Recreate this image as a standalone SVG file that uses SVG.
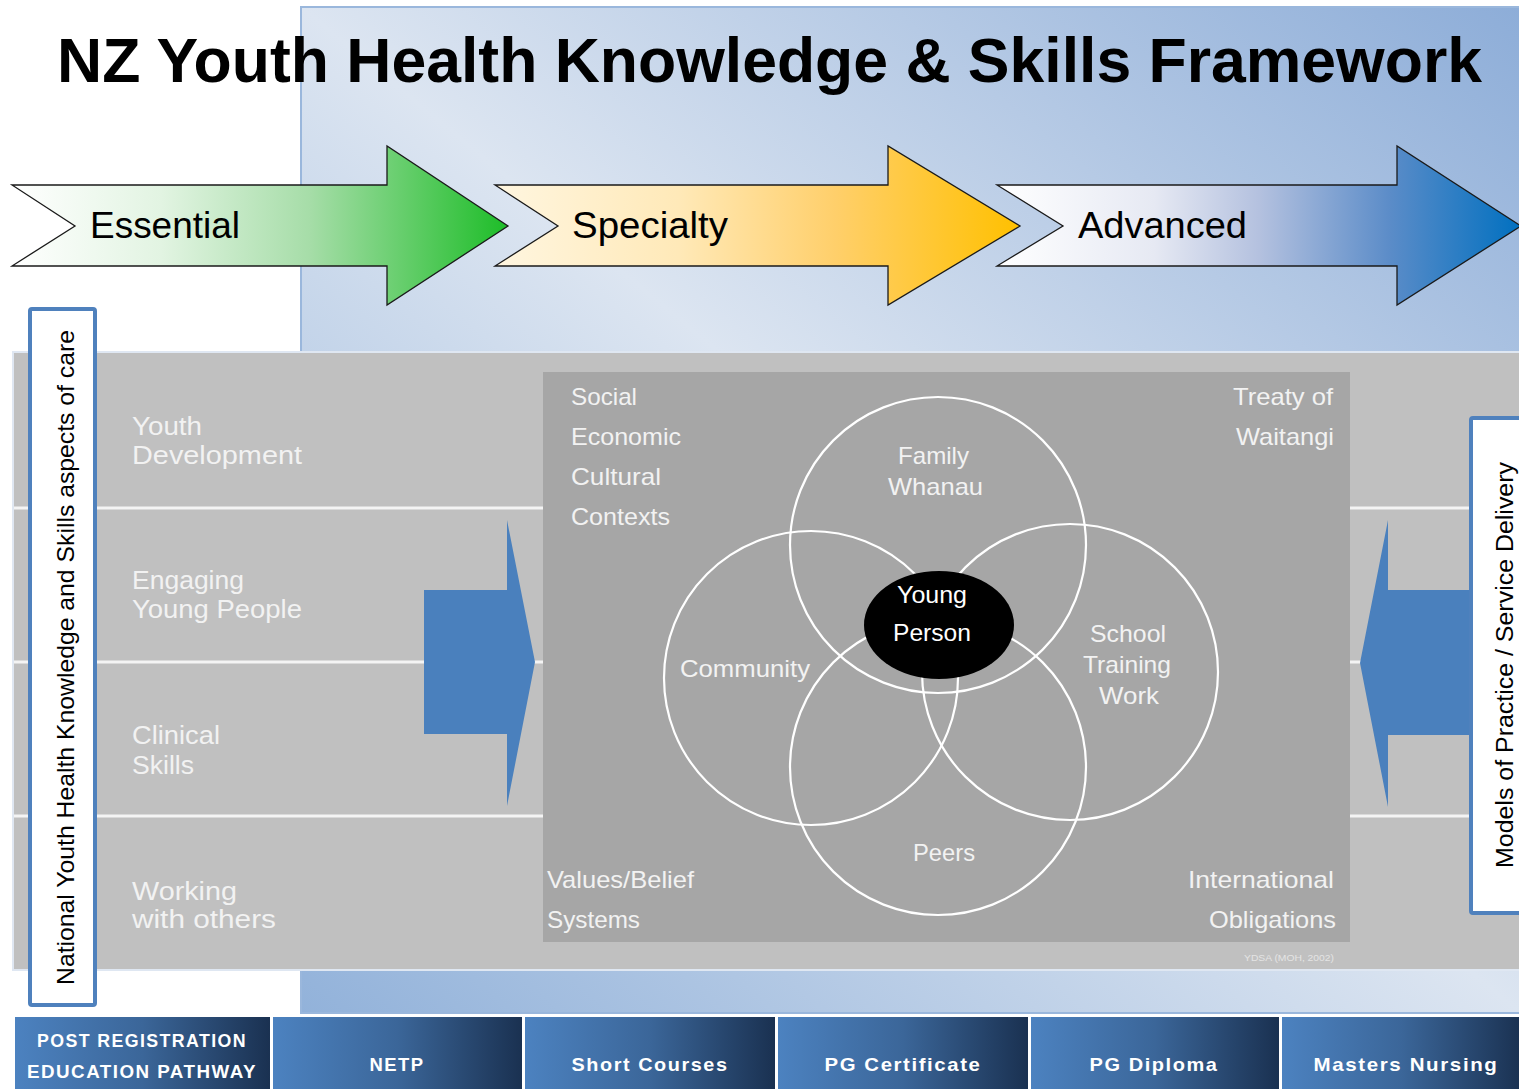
<svg xmlns="http://www.w3.org/2000/svg" width="1519" height="1089" viewBox="0 0 1519 1089">
  <defs>
    <linearGradient id="bgBlue" x1="1" y1="0" x2="0" y2="1">
      <stop offset="0" stop-color="#8dadd8"/>
      <stop offset="0.5" stop-color="#dce5f1"/>
      <stop offset="1" stop-color="#92b2da"/>
    </linearGradient>
    <linearGradient id="gEssential" x1="0" y1="0" x2="1" y2="0">
      <stop offset="0" stop-color="#ffffff"/>
      <stop offset="0.3" stop-color="#e2f4e2"/>
      <stop offset="0.6" stop-color="#a6dda8"/>
      <stop offset="1" stop-color="#1dbd28"/>
    </linearGradient>
    <linearGradient id="gSpecialty" x1="0" y1="0" x2="1" y2="0">
      <stop offset="0" stop-color="#fff6e0"/>
      <stop offset="0.35" stop-color="#ffe9b8"/>
      <stop offset="0.65" stop-color="#ffcf6a"/>
      <stop offset="1" stop-color="#ffc000"/>
    </linearGradient>
    <linearGradient id="gAdvanced" x1="0" y1="0" x2="1" y2="0">
      <stop offset="0" stop-color="#ffffff"/>
      <stop offset="0.3" stop-color="#e6e9f3"/>
      <stop offset="0.5" stop-color="#b4c1df"/>
      <stop offset="0.75" stop-color="#5b8cc8"/>
      <stop offset="1" stop-color="#0070c0"/>
    </linearGradient>
    <linearGradient id="gTab" x1="0" y1="0" x2="1" y2="0">
      <stop offset="0" stop-color="#4c82c0"/>
      <stop offset="0.5" stop-color="#3b6699"/>
      <stop offset="1" stop-color="#1a3151"/>
    </linearGradient>
    <linearGradient id="gRule" x1="0" y1="0" x2="1" y2="0">
      <stop offset="0" stop-color="#4f7aa6"/>
      <stop offset="1" stop-color="#5b7899"/>
    </linearGradient>
    <style>
      .title { font-family: "Liberation Sans", Arial, sans-serif; font-weight: bold; font-size: 63px; fill: #000; }
      .stage { stroke: #1a1a1a; stroke-width: 1.3; }
      .stageText { font-family: "Liberation Sans", Arial, sans-serif; font-size: 36px; fill: #000; }
      .row { font-family: "Liberation Sans", Arial, sans-serif; font-size: 26px; fill: #f2f2f2; }
      .rule { stroke: #f4f4f4; stroke-width: 3; }
      .ctx { font-family: "Liberation Sans", Arial, sans-serif; font-size: 24px; fill: #f2f2f2; }
      .ring { fill: none; stroke: #ffffff; stroke-width: 2.2; }
      .side { fill: #ffffff; stroke: #4f81bd; stroke-width: 4; }
      .sideText { font-family: "Liberation Sans", Arial, sans-serif; fill: #000; }
      .push { fill: #4a80bd; }
      .tab { fill: url(#gTab); }
      .tabText { font-family: "Liberation Sans", Arial, sans-serif; font-weight: bold; font-size: 19px; fill: #ffffff; letter-spacing: 1.5px; text-anchor: middle; }
    </style>
  </defs>

  <!-- page background -->
  <rect x="0" y="0" width="1519" height="1089" fill="#ffffff"/>
  <rect x="301" y="7" width="1220" height="1006" fill="url(#bgBlue)" stroke="#9ab7dc" stroke-width="2"/>

  <!-- heading -->
  <text class="title" x="57" y="82" textLength="1425" lengthAdjust="spacingAndGlyphs">NZ Youth Health Knowledge &amp; Skills Framework</text>

  <!-- stage arrows -->
  <g id="stage-essential">
    <path class="stage" fill="url(#gEssential)" d="M12,185 L387,185 L387,146 L508,226 L387,305 L387,266 L12,266 L75,226 Z"/>
    <text class="stageText" x="90" y="238" textLength="150" lengthAdjust="spacingAndGlyphs">Essential</text>
  </g>
  <g id="stage-specialty">
    <path class="stage" fill="url(#gSpecialty)" d="M495,185 L888,185 L888,146 L1020,226 L888,305 L888,266 L495,266 L558,226 Z"/>
    <text class="stageText" x="572" y="238" textLength="156" lengthAdjust="spacingAndGlyphs">Specialty</text>
  </g>
  <g id="stage-advanced">
    <path class="stage" fill="url(#gAdvanced)" d="M997,185 L1397,185 L1397,146 L1521,226 L1397,305 L1397,266 L997,266 L1063,226 Z"/>
    <text class="stageText" x="1078" y="238" textLength="169" lengthAdjust="spacingAndGlyphs">Advanced</text>
  </g>

  <!-- grey knowledge panel -->
  <g id="panel">
    <rect x="13" y="352" width="1508" height="618" fill="#c0c0c0" stroke="#dfe7f2" stroke-width="2"/>
    <line class="rule" x1="14" y1="508" x2="543" y2="508"/>
    <line class="rule" x1="14" y1="662" x2="543" y2="662"/>
    <line class="rule" x1="14" y1="816" x2="543" y2="816"/>
    <line class="rule" x1="1350" y1="508" x2="1519" y2="508"/>
    <line class="rule" x1="1350" y1="662" x2="1519" y2="662"/>
    <line class="rule" x1="1350" y1="816" x2="1519" y2="816"/>
  </g>

  <g id="row-youth-development">
    <text class="row" x="132" y="435" textLength="70" lengthAdjust="spacingAndGlyphs">Youth</text>
    <text class="row" x="132" y="464" textLength="170" lengthAdjust="spacingAndGlyphs">Development</text>
  </g>
  <g id="row-engaging">
    <text class="row" x="132" y="589" textLength="112" lengthAdjust="spacingAndGlyphs">Engaging</text>
    <text class="row" x="132" y="618" textLength="170" lengthAdjust="spacingAndGlyphs">Young People</text>
  </g>
  <g id="row-clinical">
    <text class="row" x="132" y="744" textLength="88" lengthAdjust="spacingAndGlyphs">Clinical</text>
    <text class="row" x="132" y="774" textLength="62" lengthAdjust="spacingAndGlyphs">Skills</text>
  </g>
  <g id="row-working">
    <text class="row" x="132" y="900" textLength="105" lengthAdjust="spacingAndGlyphs">Working</text>
    <text class="row" x="132" y="928" textLength="144" lengthAdjust="spacingAndGlyphs">with others</text>
  </g>

  <!-- inward arrows -->
  <g id="connectors">
    <path class="push" d="M424,590 L507,590 L507,520 L535,662 L507,806 L507,734 L424,734 Z"/>
    <path class="push" d="M1475,590 L1388,590 L1388,520 L1360,663 L1388,807 L1388,735 L1475,735 Z"/>
  </g>

  <!-- contexts box with overlapping circles -->
  <g id="contexts">
    <rect x="543" y="372" width="807" height="570" fill="#a6a6a6"/>
    <text class="ctx" x="571" y="405" textLength="66" lengthAdjust="spacingAndGlyphs">Social</text>
    <text class="ctx" x="571" y="445" textLength="110" lengthAdjust="spacingAndGlyphs">Economic</text>
    <text class="ctx" x="571" y="485" textLength="90" lengthAdjust="spacingAndGlyphs">Cultural</text>
    <text class="ctx" x="571" y="525" textLength="99" lengthAdjust="spacingAndGlyphs">Contexts</text>
    <text class="ctx" x="1233" y="405" textLength="100" lengthAdjust="spacingAndGlyphs">Treaty of</text>
    <text class="ctx" x="1236" y="445" textLength="98" lengthAdjust="spacingAndGlyphs">Waitangi</text>
    <text class="ctx" x="547" y="888" textLength="147" lengthAdjust="spacingAndGlyphs">Values/Belief</text>
    <text class="ctx" x="547" y="928" textLength="93" lengthAdjust="spacingAndGlyphs">Systems</text>
    <text class="ctx" x="1188" y="888" textLength="146" lengthAdjust="spacingAndGlyphs">International</text>
    <text class="ctx" x="1209" y="928" textLength="127" lengthAdjust="spacingAndGlyphs">Obligations</text>
    <text x="1244" y="961" font-family="Liberation Sans, Arial, sans-serif" font-size="9" fill="#e4e4e4" textLength="90" lengthAdjust="spacingAndGlyphs">YDSA (MOH, 2002)</text>
  </g>

  <g id="circle-family">
    <circle class="ring" cx="938" cy="545" r="148"/>
    <text class="ctx" x="898" y="464" textLength="71" lengthAdjust="spacingAndGlyphs">Family</text>
    <text class="ctx" x="888" y="495" textLength="95" lengthAdjust="spacingAndGlyphs">Whanau</text>
  </g>
  <g id="circle-community">
    <circle class="ring" cx="811" cy="678" r="147"/>
    <text class="ctx" x="680" y="677" textLength="130" lengthAdjust="spacingAndGlyphs">Community</text>
  </g>
  <g id="circle-school">
    <circle class="ring" cx="1070" cy="672" r="148"/>
    <text class="ctx" x="1090" y="642" textLength="76" lengthAdjust="spacingAndGlyphs">School</text>
    <text class="ctx" x="1083" y="673" textLength="88" lengthAdjust="spacingAndGlyphs">Training</text>
    <text class="ctx" x="1099" y="704" textLength="60" lengthAdjust="spacingAndGlyphs">Work</text>
  </g>
  <g id="circle-peers">
    <circle class="ring" cx="938" cy="767" r="148"/>
    <text class="ctx" x="913" y="861" textLength="62" lengthAdjust="spacingAndGlyphs">Peers</text>
  </g>
  <g id="young-person">
    <ellipse cx="939" cy="625" rx="75" ry="54" fill="#000000"/>
    <text class="ctx" x="897" y="603" fill="#ffffff" style="fill:#ffffff" textLength="70" lengthAdjust="spacingAndGlyphs">Young</text>
    <text class="ctx" x="893" y="641" style="fill:#ffffff" textLength="78" lengthAdjust="spacingAndGlyphs">Person</text>
  </g>

  <!-- vertical side labels -->
  <g id="side-knowledge">
    <rect class="side" x="30" y="309" width="65" height="696" rx="2"/>
    <text class="sideText" font-size="24" transform="translate(74,985) rotate(-90)" textLength="655" lengthAdjust="spacingAndGlyphs">National Youth Health Knowledge and Skills aspects of care</text>
  </g>
  <g id="side-practice">
    <rect class="side" x="1471" y="418" width="60" height="495" rx="2"/>
    <text class="sideText" font-size="23" transform="translate(1513,868) rotate(-90)" textLength="406" lengthAdjust="spacingAndGlyphs">Models of Practice / Service Delivery</text>
  </g>

  <!-- education pathway bar -->
  <line x1="13" y1="1013" x2="1519" y2="1013" stroke="url(#gRule)" stroke-width="2.5"/>
  <g id="tab-pathway">
    <rect class="tab" x="15" y="1017" width="255" height="72"/>
    <text class="tabText" x="142" y="1047" textLength="210" lengthAdjust="spacingAndGlyphs">POST REGISTRATION</text>
    <text class="tabText" x="142" y="1078" textLength="230" lengthAdjust="spacingAndGlyphs">EDUCATION PATHWAY</text>
  </g>
  <g id="tab-netp">
    <rect class="tab" x="273" y="1017" width="249" height="72"/>
    <text class="tabText" x="397" y="1071" textLength="55" lengthAdjust="spacingAndGlyphs">NETP</text>
  </g>
  <g id="tab-short-courses">
    <rect class="tab" x="525" y="1017" width="250" height="72"/>
    <text class="tabText" x="650" y="1071" textLength="157" lengthAdjust="spacingAndGlyphs">Short Courses</text>
  </g>
  <g id="tab-pg-certificate">
    <rect class="tab" x="778" y="1017" width="250" height="72"/>
    <text class="tabText" x="903" y="1071" textLength="157" lengthAdjust="spacingAndGlyphs">PG Certificate</text>
  </g>
  <g id="tab-pg-diploma">
    <rect class="tab" x="1031" y="1017" width="248" height="72"/>
    <text class="tabText" x="1154" y="1071" textLength="129" lengthAdjust="spacingAndGlyphs">PG Diploma</text>
  </g>
  <g id="tab-masters">
    <rect class="tab" x="1282" y="1017" width="240" height="72"/>
    <text class="tabText" x="1406" y="1071" textLength="185" lengthAdjust="spacingAndGlyphs">Masters Nursing</text>
  </g>
</svg>
